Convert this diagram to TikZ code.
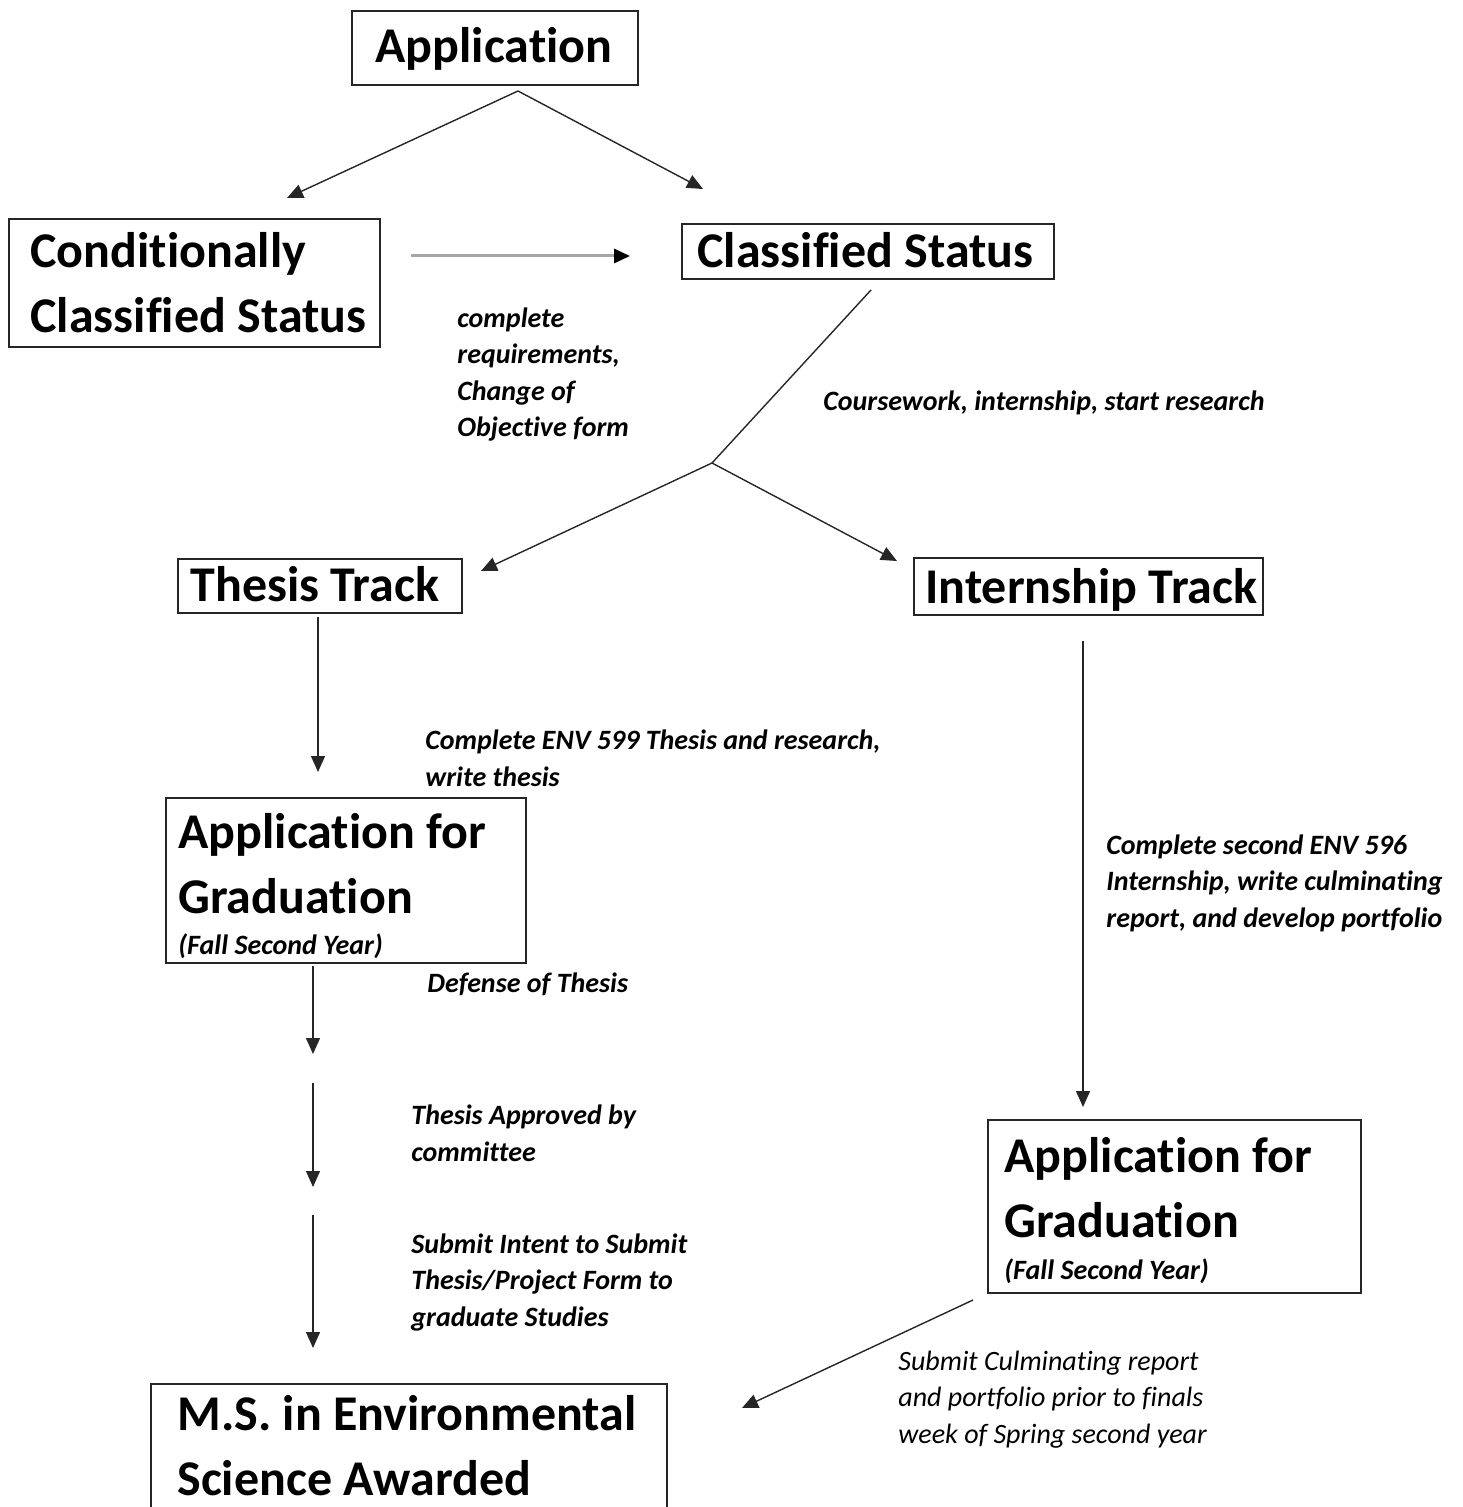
\documentclass[tikz,border=0pt]{standalone}
\usepackage{fontspec}
\setmainfont{Carlito}[Ligatures=NoCommon]
\usetikzlibrary{arrows.meta}
\begin{document}
\begin{tikzpicture}[x=0.5pt,y=-0.5pt,
  box/.style={draw=black!85,line width=1pt,inner sep=0pt,anchor=north west},
  big/.style={font=\bfseries\fontsize{25}{32.5}\selectfont,anchor=base west,inner sep=0pt,align=left},
  lab/.style={font=\bfseries\itshape\fontsize{14}{18.25}\selectfont,anchor=base west,inner sep=0pt,align=left},
  labr/.style={font=\itshape\fontsize{14}{18.25}\selectfont,anchor=base west,inner sep=0pt,align=left},
  arr/.style={-{Triangle[length=8pt,width=7pt]},line width=0.7pt,draw=black!85}]
\useasboundingbox (0,0) rectangle (1462,1507);
\clip (0,0) rectangle (1462,1507);

% boxes
\node[box,minimum width=143pt,minimum height=37pt] (app) at (351,10) {};
\node[box,minimum width=185.5pt,minimum height=64pt] (cond) at (8,218) {};
\node[box,minimum width=186pt,minimum height=27.5pt] (cls) at (681,223) {};
\node[box,minimum width=142pt,minimum height=27pt] (thesis) at (177,558) {};
\node[box,minimum width=174.5pt,minimum height=28.5pt] (intern) at (913,557) {};
\node[box,minimum width=180pt,minimum height=82.5pt] (gradL) at (165,797) {};
\node[box,minimum width=186.5pt,minimum height=86.5pt] (gradR) at (987,1119) {};
\node[box,minimum width=258pt,minimum height=73.5pt] (ms) at (150,1383) {};

% box texts (multi-line nodes: base = last line)
\node[big,anchor=base] (app-t) at (494,63) {Application};
\node[big] (cond-t) at (30,333) {Conditionally\\Classified Status};
\node[big] (cls-t) at (697,268) {Classified Status};
\node[big] (thesis-t) at (190,601) {Thesis Track};
\node[big] (intern-t) at (925,603) {Internship Track};
\node[big] (gradL-t) at (178,913) {Application for\\Graduation};
\node[lab] (gradL-s) at (178,954) {(Fall Second Year)};
\node[big] (gradR-t) at (1004,1237) {Application for\\Graduation};
\node[lab] (gradR-s) at (1004,1279) {(Fall Second Year)};
\node[big] (ms-t) at (177,1495) {M.S. in Environmental\\Science Awarded};

% labels
\node[lab] (l1) at (457,437) {complete\\requirements,\\Change of\\Objective form};
\node[lab] (l2) at (823,411) {Coursework, internship, start research};
\node[lab] (l3) at (425,786) {Complete ENV 599 Thesis and research,\\write thesis};
\node[lab] (l4) at (427,992) {Defense of Thesis};
\node[lab] (l5) at (411,1161) {Thesis Approved by\\committee};
\node[lab] (l6) at (411,1326) {Submit Intent to Submit\\Thesis/Project Form to\\graduate Studies};
\node[lab] (l7) at (1106,927) {Complete second ENV 596\\Internship, write culminating\\report, and develop portfolio};
\node[labr] (l8) at (898,1443) {Submit Culminating report\\and portfolio prior to finals\\week of Spring second year};

% connector coordinates
\coordinate (a0) at (518,91);
\coordinate (a1) at (287,198);
\coordinate (a2) at (703,189);
\coordinate (h0) at (411,256);
\coordinate (h1) at (630,256);
\coordinate (c0) at (871,290);
\coordinate (c1) at (712,463);
\coordinate (c2) at (481,571);
\coordinate (c3) at (897,561);
\coordinate (t0) at (318,617);
\coordinate (t1) at (318,772);
\coordinate (d0) at (313,966);
\coordinate (d1) at (313,1054);
\coordinate (d2) at (313,1083);
\coordinate (d3) at (313,1187);
\coordinate (d4) at (313,1215);
\coordinate (d5) at (313,1348);
\coordinate (i0) at (1083,641);
\coordinate (i1) at (1083,1107);
\coordinate (r0) at (973,1300);
\coordinate (r1) at (742,1408);

% connectors
\draw[arr] (a0) -- (a1);
\draw[arr] (a0) -- (a2);
\draw[-{Triangle[length=8pt,width=7pt,color=black]},line width=1.5pt,draw=black!35] (h0) -- (h1);
\draw[line width=0.7pt,draw=black!85] (c0) -- (c1);
\draw[arr] (c1) -- (c2);
\draw[arr] (c1) -- (c3);
\draw[arr] (t0) -- (t1);
\draw[arr] (d0) -- (d1);
\draw[arr] (d2) -- (d3);
\draw[arr] (d4) -- (d5);
\draw[arr] (i0) -- (i1);
\draw[arr] (r0) -- (r1);
\end{tikzpicture}
\end{document}
